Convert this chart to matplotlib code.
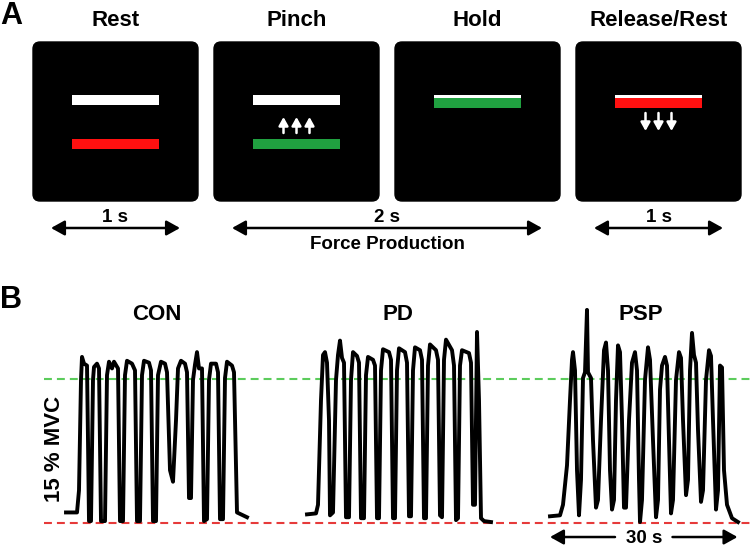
import matplotlib
matplotlib.use("Agg")
import matplotlib.pyplot as plt
from matplotlib.patches import FancyBboxPatch, Rectangle

# ---- panel A: task phases ----
phases = ["Rest", "Pinch", "Hold", "Release/Rest"]
cursor_on_target = [False, False, True, True]
cursor_colors = ["#ff1010", "#20a040", "#20a040", "#ff1010"]
cue_arrows = [None, "up", None, "down"]
# timing label, first box, last box
durations = [("1 s", 0, 0), ("2 s", 1, 2), ("1 s", 3, 3)]
force_label = "Force Production"

# ---- panel B: force traces (time in s, force in % MVC) ----
groups = ["CON", "PD", "PSP"]
target_level = 15
con_t = [0, 1.76, 2.08, 2.4, 2.56, 2.88, 3.36, 3.52, 3.68, 4.0, 4.32, 4.48, 4.96, 5.28,
         5.6, 6.24, 6.56, 6.88, 7.36, 7.68, 8.32, 8.64, 9.12, 9.44, 9.76, 10.56, 11.04,
         11.36, 11.84, 12.16, 12.48, 13.28, 13.6, 13.92, 14.4, 14.72, 15.2, 15.84, 16.16,
         16.64, 17.12, 17.6, 17.92, 18.4, 19.04, 19.36, 19.68, 20.0, 20.32, 20.64, 20.96,
         21.28, 21.76, 22.08, 22.56, 22.88, 23.2, 24.0, 24.32, 24.64, 25.12, 25.44, 25.76,
         26.56, 26.88, 27.36, 28.0, 28.96]
con_f = [1.1, 1.1, 3.4, 14.9, 17.3, 16.6, 16.4, 8.6, 0.2, 0.2, 14.9, 16.25, 16.6, 16.1,
         0.2, 0.2, 15.4, 16.8, 16.1, 16.8, 16.1, 0.2, 0.2, 15.4, 16.9, 16.6, 15.9,
         0.2, 0.2, 15.4, 16.9, 16.7, 15.9, 0.2, 0.2, 15.4, 16.8, 16.6, 15.7,
         5.5, 4.3, 10.7, 16.1, 16.9, 16.6, 15.7, 2.6, 2.6, 14.9, 16.5, 17.8,
         16.1, 16.1, 0.2, 0.4, 14.9, 16.6, 16.6, 15.7, 0.4, 0.4, 15.1, 16.8,
         16.4, 15.7, 1.1, 0.9, 0.6]
pd_t = [0, 1.44, 1.76, 2.24, 2.56, 2.88, 3.2, 3.52, 3.68, 4.16, 4.64, 4.96, 5.28, 5.6,
        5.92, 6.24, 6.72, 7.04, 7.36, 8.0, 8.32, 8.64, 9.12, 9.44, 9.76, 10.56, 10.88,
        11.2, 11.52, 11.84, 12.16, 13.12, 13.44, 13.76, 14.08, 14.4, 14.72, 15.68, 16.0,
        16.32, 16.64, 16.96, 17.28, 18.08, 18.4, 18.72, 19.04, 19.36, 19.68, 20.64, 20.96,
        21.28, 21.6, 21.92, 22.24, 23.2, 23.52, 23.84, 24.16, 24.48, 24.8, 25.92, 26.24,
        26.56, 26.88, 27.2, 27.52, 27.84, 28.32, 29.44]
pd_f = [0.9, 1.0, 1.9, 12.8, 17.5, 17.8, 16.7, 10.7, 0.8, 1.1, 14.9, 17.5, 19.0, 17.2,
        16.7, 0.6, 0.6, 14.9, 17.8, 17.4, 16.7, 0.5, 0.5, 15.4, 17.3, 17.0, 16.4,
        0.5, 0.5, 15.9, 18.1, 17.8, 17.0, 0.5, 0.5, 15.9, 18.2, 17.8, 16.7,
        0.7, 0.7, 15.9, 18.3, 18.0, 17.0, 0.5, 0.5, 16.4, 18.6, 18.0, 17.0,
        0.8, 0.6, 17.0, 19.1, 18.0, 16.4, 0.3, 0.5, 16.4, 18.0, 17.7, 16.7,
        1.9, 1.9, 19.9, 12.8, 0.5, 0.2, 0.1]
psp_t = [0, 1.6, 2.08, 2.72, 3.2, 3.52, 3.68, 4.0, 4.32, 4.64, 4.96, 5.28, 5.6, 5.92,
         6.08, 6.56, 6.88, 7.36, 7.68, 8.16, 8.64, 8.96, 9.28, 9.6, 9.92, 10.24, 10.56,
         10.88, 11.2, 11.52, 11.84, 12.16, 12.64, 13.12, 13.6, 13.92, 14.24, 14.4, 14.72,
         15.2, 15.68, 16.0, 16.48, 16.96, 17.28, 17.6, 17.92, 18.4, 18.72, 19.04, 19.36,
         19.68, 20.16, 20.64, 20.96, 21.28, 21.76, 22.08, 22.4, 22.72, 23.04, 23.36, 23.68,
         24.16, 24.48, 24.96, 25.44, 25.76, 26.08, 26.56, 26.88, 27.2, 27.52, 27.84, 28.32,
         29.12, 30.08]
psp_f = [0.7, 0.8, 1.9, 6.0, 12.8, 17.0, 17.8, 15.9, 5.5, 0.8, 4.5, 15.1, 15.7, 22.2,
         15.7, 15.1, 8.6, 1.6, 2.4, 10.7, 18.0, 18.8, 15.9, 5.5, 1.4, 2.4, 12.8,
         18.5, 17.8, 10.7, 1.6, 1.6, 10.7, 16.7, 17.8, 15.9, 4.5, 0.1, 2.4,
         14.9, 18.3, 17.0, 8.6, 0.6, 2.4, 13.9, 16.4, 17.3, 16.4, 8.6, 1.0,
         2.4, 14.9, 17.8, 17.2, 10.7, 2.9, 4.5, 15.9, 19.8, 17.5, 16.7, 9.7,
         2.2, 3.4, 14.9, 18.0, 17.4, 10.7, 1.4, 3.4, 16.4, 16.2, 5.5, 1.9,
         0.5, 0.1]
scale_bar = 30  # seconds

traces = [(con_t, con_f), (pd_t, pd_f), (psp_t, psp_f)]

plt.rcParams['font.family'] = ['Liberation Sans', 'DejaVu Sans']
plt.rcParams['font.weight'] = 'bold'

fig = plt.figure(figsize=(7.5, 5.49), dpi=100)

# panel A on a pixel sized canvas
ax_a = fig.add_axes([0, 0, 1, 1])
ax_a.set_xlim(0, 750)
ax_a.set_ylim(549, 0)
ax_a.axis('off')

box_left, box_pitch, box_w, box_top, box_h = 33, 181, 165, 42, 159
bar_w, bar_h = 87, 9.5
for i, name in enumerate(phases):
    x0 = box_left + i * box_pitch
    cx = x0 + box_w / 2
    ax_a.add_patch(FancyBboxPatch((x0, box_top), box_w, box_h,
                                  boxstyle="round,pad=0,rounding_size=7",
                                  fc='black', ec='black'))
    ax_a.text(cx, 26, name, ha='center', va='baseline', fontsize=16)
    # target bar
    ax_a.add_patch(Rectangle((cx - bar_w / 2, 95), bar_w, bar_h, fc='white', ec='none'))
    # force cursor
    cy = 98 if cursor_on_target[i] else 139
    ax_a.add_patch(Rectangle((cx - bar_w / 2, cy), bar_w, bar_h + 0.5,
                             fc=cursor_colors[i], ec='none'))
    if cue_arrows[i]:
        y_from, y_to = (133, 117) if cue_arrows[i] == "up" else (113, 131)
        for dx in (-13, 0, 13):
            ax_a.annotate('', xy=(cx + dx, y_to), xytext=(cx + dx, y_from),
                          arrowprops=dict(arrowstyle='-|>,head_length=0.5,head_width=0.28',
                                          color='white', lw=1.8, mutation_scale=10,
                                          shrinkA=0, shrinkB=0))

for label, first, last in durations:
    xa = box_left + first * box_pitch + 18
    xb = box_left + last * box_pitch + box_w - 18
    ax_a.annotate('', xy=(xb, 228), xytext=(xa, 228),
                  arrowprops=dict(arrowstyle='<|-|>,head_length=0.45,head_width=0.25',
                                  color='black', lw=1.8, mutation_scale=18,
                                  shrinkA=0, shrinkB=0))
    ax_a.text((xa + xb) / 2, 222.5, label, ha='center', va='baseline', fontsize=13.5)
    if first != last:
        ax_a.text((xa + xb) / 2, 249, force_label, ha='center', va='baseline', fontsize=13.5)

ax_a.text(0, 24, "A", ha='left', va='baseline', fontsize=22)
ax_a.text(0, 308, "B", ha='left', va='baseline', fontsize=22)

# panel B: force traces
ax_b = fig.add_axes([0, 0, 1, 249 / 549])
ax_b.set_xlim(0, 120)
ax_b.set_ylim(-2.708, 23.229)
ax_b.axis('off')

ax_b.hlines([target_level], 7.0, 120, colors='#5ccc5c', linestyles=[(0, (3.8, 2.4))], lw=1.5)
ax_b.hlines([0], 7.0, 120, colors='#e63a3a', linestyles=[(0, (3.8, 2.4))], lw=1.5)

trace_starts = [10.56, 49.12, 88.0]
for name, (t, f), t0 in zip(groups, traces, trace_starts):
    ax_b.plot([t0 + v for v in t], f, color='black', lw=2.8, solid_joinstyle='round')
    ax_b.text(t0 + 14.5, 21.15, name, ha='center', va='baseline', fontsize=16)

ax_b.text(8.8, 7.7, "15 % MVC", rotation=90, ha='center', va='center', fontsize=16)

# 30 s scale bar under the PSP trace
t0 = trace_starts[2]
mid = t0 + scale_bar / 2
for end, gap in ((t0, mid - 4.6), (t0 + scale_bar, mid + 4.6)):
    ax_b.annotate('', xy=(end, -1.46), xytext=(gap, -1.46),
                  arrowprops=dict(arrowstyle='-|>,head_length=0.45,head_width=0.25',
                                  color='black', lw=1.8, mutation_scale=18,
                                  shrinkA=0, shrinkB=0))
ax_b.text(mid, -2.08, f"{scale_bar} s", ha='center', va='baseline', fontsize=13.5)

fig.savefig("out.png", dpi=100)
